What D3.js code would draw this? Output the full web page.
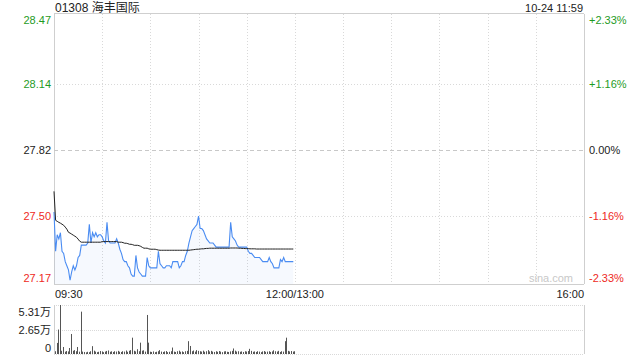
<!DOCTYPE html>
<html><head><meta charset="utf-8">
<script src="https://cdn.jsdelivr.net/npm/d3@7"></script>
<style>
html,body{margin:0;padding:0;background:#fff;}
svg{display:block;font-family:"Liberation Sans",Arial,"Noto Sans CJK SC",sans-serif;}
</style></head><body>
<svg id="c" width="640" height="360"></svg>
<script>
const title = "01308 海丰国际";
const stamp = "10-24 11:59";
const prevClose = 27.82;
const priceTicks = [28.47, 28.14, 27.82, 27.50, 27.17];
const priceTickLabels = ["28.47", "28.14", "27.82", "27.50", "27.17"];
const pctTickLabels = ["+2.33%", "+1.16%", "0.00%", "-1.16%", "-2.33%"];
const timeLabels = ["09:30", "12:00/13:00", "16:00"];
const timeLabelMinutes = [0, 150, 330];
const volTickLabels = ["5.31万", "2.65万", "0"];
const volTicks = [53100, 26500, 0];

const price = [27.52,27.33,27.41,27.39,27.42,27.33,27.32,27.28,27.26,27.24,
27.19,27.23,27.26,27.24,27.26,27.30,27.31,27.36,27.36,27.36,
27.36,27.37,27.46,27.37,27.42,27.40,27.42,27.40,27.41,27.41,
27.40,27.38,27.37,27.47,27.38,27.37,27.37,27.37,27.37,27.39,
27.37,27.34,27.32,27.29,27.28,27.28,27.26,27.25,27.22,27.21,
27.21,27.31,27.25,27.23,27.22,27.21,27.21,27.21,27.30,27.26,
27.25,27.25,27.25,27.25,27.25,27.33,27.27,27.26,27.25,27.25,
27.26,27.26,27.26,27.25,27.28,27.28,27.28,27.28,27.25,27.26,
27.28,27.28,27.31,27.33,27.37,27.40,27.43,27.44,27.45,27.46,
27.50,27.44,27.44,27.43,27.41,27.39,27.38,27.37,27.37,27.37,
27.36,27.35,27.35,27.35,27.35,27.35,27.35,27.35,27.35,27.35,
27.47,27.40,27.39,27.38,27.36,27.35,27.35,27.35,27.35,27.35,
27.35,27.33,27.32,27.32,27.31,27.30,27.30,27.30,27.30,27.29,
27.28,27.28,27.28,27.28,27.30,27.28,27.27,27.25,27.25,27.25,
27.25,27.29,27.28,27.30,27.28,27.28,27.28,27.28,27.28,27.28];

const avgPrice = [27.620,27.480,27.475,27.470,27.466,27.461,27.456,27.447,27.437,27.422,
27.418,27.413,27.408,27.403,27.398,27.389,27.379,27.374,27.374,27.374,
27.374,27.374,27.374,27.374,27.374,27.374,27.374,27.374,27.374,27.374,
27.377,27.377,27.377,27.377,27.377,27.377,27.377,27.377,27.377,27.377,
27.374,27.374,27.374,27.372,27.369,27.369,27.367,27.364,27.364,27.362,
27.359,27.359,27.359,27.357,27.354,27.349,27.345,27.345,27.345,27.342,
27.340,27.340,27.340,27.340,27.338,27.336,27.335,27.335,27.335,27.335,
27.335,27.335,27.335,27.335,27.335,27.335,27.335,27.335,27.335,27.335,
27.335,27.335,27.335,27.335,27.335,27.336,27.337,27.338,27.339,27.340,
27.340,27.341,27.342,27.342,27.343,27.344,27.344,27.345,27.345,27.345,
27.345,27.345,27.345,27.345,27.345,27.345,27.345,27.345,27.345,27.345,
27.346,27.346,27.346,27.346,27.346,27.345,27.345,27.344,27.344,27.343,
27.343,27.343,27.342,27.342,27.342,27.342,27.341,27.341,27.341,27.341,
27.341,27.341,27.341,27.341,27.341,27.341,27.341,27.341,27.341,27.341,
27.341,27.341,27.341,27.341,27.341,27.341,27.341,27.341,27.341,27.341];

const volume = [3000,12000,26500,53100,3500,7600,2500,3200,2800,6500,
21700,3500,4200,3000,7600,2500,45900,2600,2200,1800,
2400,2000,3000,8500,3600,2600,2000,2400,3200,2800,
2000,2600,3300,3800,2400,2900,2200,3000,2600,3400,
2500,2200,3000,2600,3800,2400,3500,4200,17700,3500,
2800,5200,3000,12300,3600,4000,2600,42300,12300,2500,
2200,2800,2000,2400,3000,4200,2600,2200,2800,3200,
2000,2400,3000,7000,2600,2200,3000,3600,2400,2800,
2000,3000,3400,13900,8700,3000,3800,2600,4200,3400,
3000,2600,3600,2400,3000,4200,2800,3400,2600,2200,
3000,2400,3200,2600,2000,2800,3000,2400,2200,2800,
3400,6000,3600,2600,3000,2400,2800,2200,3000,2600,
3200,5600,3400,2400,2800,2200,3000,2600,2000,2800,
3200,2400,2600,3000,2200,2800,4000,3000,2600,3400,
2200,3000,2600,13900,17700,3400,2800,3200,2600,3000];

const GREEN = "#1f9b1f", RED = "#ee2a24", DARK = "#222", GRID = "#cfcfcf", DOT = "#d9d9d9";
const svg = d3.select("#c");
const L = 54, R = 584, T = 16, B = 284, VT = 305, VB = 354;

const x = d3.scaleLinear().domain([0, 330]).range([L, R]);
const y = d3.scaleLinear().domain([prevClose * (1 - 0.0233), prevClose * (1 + 0.0233)]).range([B, T]);
const yv = d3.scaleLinear().domain([0, 53100]).range([VB, VT]);

// frame
svg.append("line").attr("x1", L).attr("x2", R).attr("y1", T - 2.5).attr("y2", T - 2.5).attr("stroke", GRID);
svg.append("line").attr("x1", L + 0.5).attr("x2", L + 0.5).attr("y1", T - 2).attr("y2", B).attr("stroke", GRID);
svg.append("line").attr("x1", R + 0.5).attr("x2", R + 0.5).attr("y1", T - 2).attr("y2", B).attr("stroke", GRID);
svg.append("line").attr("x1", L).attr("x2", R).attr("y1", B + 0.5).attr("y2", B + 0.5).attr("stroke", GRID);

// vertical grid
const vg = d3.range(30, 330, 30);
svg.append("g").selectAll("line").data(vg).join("line")
  .attr("x1", d => Math.round(x(d)) + 0.5).attr("x2", d => Math.round(x(d)) + 0.5)
  .attr("y1", T - 2).attr("y2", B)
  .attr("stroke", DOT).attr("stroke-dasharray", "1,2");

// horizontal grid
svg.append("g").selectAll("line").data(priceTicks.slice(1, 4)).join("line")
  .attr("x1", L).attr("x2", R)
  .attr("y1", d => Math.round(y(d)) + 0.5).attr("y2", d => Math.round(y(d)) + 0.5)
  .attr("stroke", (d, i) => i === 1 ? "#c8c8c8" : DOT)
  .attr("stroke-dasharray", (d, i) => i === 1 ? "4,3" : "1,2");

// watermark
svg.append("text").attr("x", 573).attr("y", 282).attr("text-anchor", "end")
  .attr("font-size", 11).attr("fill", "#c8c8c8").text("sina.com");

// price fill and lines
const mins = price.map((d, i) => i);
const area = d3.area().x(i => x(i)).y0(B).y1(i => y(price[i]));
svg.append("path").datum(mins).attr("d", area).attr("fill", "rgba(80,140,240,0.05)");
const pline = d3.line().x(i => x(i)).y(i => y(price[i]));
svg.append("path").datum(mins).attr("d", pline).attr("fill", "none")
  .attr("stroke", "#4a8cf2").attr("stroke-width", 1.1);
const aline = d3.line().x(i => x(i)).y(i => y(avgPrice[i]));
svg.append("path").datum(mins).attr("d", aline).attr("fill", "none")
  .attr("stroke", DARK).attr("stroke-width", 1);

// price labels
const colorFor = i => i < 2 ? GREEN : (i === 2 ? DARK : RED);
const labelY = (d, i) => {
  const yy = y(d);
  if (i === 0) return yy + 8;
  if (i === 4) return yy - 2;
  return yy + 4;
};
svg.append("g").selectAll("text").data(priceTicks).join("text")
  .attr("x", 51).attr("y", labelY).attr("text-anchor", "end")
  .attr("font-size", 11).attr("fill", (d, i) => colorFor(i))
  .text((d, i) => priceTickLabels[i]);
svg.append("g").selectAll("text").data(priceTicks).join("text")
  .attr("x", 589).attr("y", labelY).attr("text-anchor", "start")
  .attr("font-size", 11).attr("fill", (d, i) => colorFor(i))
  .text((d, i) => pctTickLabels[i]);

// title & stamp
svg.append("text").attr("x", 55).attr("y", 12).attr("font-size", 12).attr("fill", "#222").text(title);
svg.append("text").attr("x", 583).attr("y", 12).attr("text-anchor", "end").attr("font-size", 11).attr("fill", "#222").text(stamp);

// time labels
svg.append("g").selectAll("text").data(timeLabelMinutes).join("text")
  .attr("x", (d, i) => i === 0 ? x(d) + 1 : x(d))
  .attr("y", 298)
  .attr("text-anchor", (d, i) => i === 0 ? "start" : (i === 2 ? "end" : "middle"))
  .attr("font-size", 11).attr("fill", "#222")
  .text((d, i) => timeLabels[i]);

// volume panel
svg.append("g").selectAll("line").data(volTicks).join("line")
  .attr("x1", L).attr("x2", R)
  .attr("y1", d => Math.round(yv(d)) + 0.5).attr("y2", d => Math.round(yv(d)) + 0.5)
  .attr("stroke", DOT).attr("stroke-dasharray", "1,1");
svg.append("line").attr("x1", L + 0.5).attr("x2", L + 0.5).attr("y1", VT).attr("y2", VB).attr("stroke", GRID);
svg.append("line").attr("x1", R + 0.5).attr("x2", R + 0.5).attr("y1", VT).attr("y2", VB).attr("stroke", GRID);

svg.append("g").selectAll("rect").data(volume).join("rect")
  .attr("x", (d, i) => Math.round(x(i)) + 1).attr("width", 1)
  .attr("y", d => yv(d)).attr("height", d => VB - yv(d))
  .attr("fill", "#555");

svg.append("g").selectAll("text").data(volTicks).join("text")
  .attr("x", 51)
  .attr("y", (d, i) => i === 0 ? yv(d) + 11 : (i === 1 ? yv(d) + 4 : yv(d) - 2))
  .attr("text-anchor", "end").attr("font-size", 11).attr("fill", "#222")
  .text((d, i) => volTickLabels[i]);
</script>
</body></html>
